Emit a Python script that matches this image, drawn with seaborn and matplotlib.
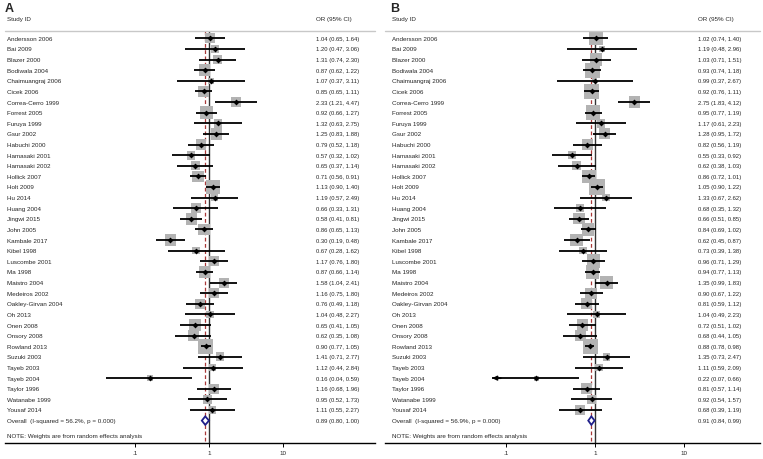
import numpy as np
import pandas as pd
import matplotlib
matplotlib.use("Agg")
import matplotlib.pyplot as plt
import matplotlib.transforms as mtransforms
import seaborn as sns

studies = ["Andersson 2006", "Bai 2009", "Blazer 2000", "Bodiwala 2004", "Chaimuangraj 2006",
           "Cicek 2006", "Correa-Cerro 1999", "Forrest 2005", "Furuya 1999", "Gsur 2002",
           "Habuchi 2000", "Hamasaki 2001", "Hamasaki 2002", "Hollick 2007", "Holt 2009",
           "Hu 2014", "Huang 2004", "Jingwi 2015", "John 2005", "Kambale 2017", "Kibel 1998",
           "Luscombe 2001", "Ma 1998", "Maistro 2004", "Medeiros 2002", "Oakley-Girvan 2004",
           "Oh 2013", "Onen 2008", "Onsory 2008", "Rowland 2013", "Suzuki 2003", "Tayeb 2003",
           "Tayeb 2004", "Taylor 1996", "Watanabe 1999", "Yousaf 2014"]

# panel A
or_a = [1.04, 1.20, 1.31, 0.87, 1.07, 0.85, 2.33, 0.92, 1.32, 1.25, 0.79, 0.57, 0.65, 0.71, 1.13,
        1.19, 0.66, 0.58, 0.86, 0.30, 0.67, 1.17, 0.87, 1.58, 1.16, 0.76, 1.04, 0.65, 0.62, 0.90,
        1.41, 1.12, 0.16, 1.16, 0.95, 1.11]
lo_a = [0.65, 0.47, 0.74, 0.62, 0.37, 0.65, 1.21, 0.66, 0.63, 0.83, 0.52, 0.32, 0.37, 0.56, 0.90,
        0.57, 0.33, 0.41, 0.65, 0.19, 0.28, 0.76, 0.66, 1.04, 0.75, 0.49, 0.48, 0.41, 0.35, 0.77,
        0.71, 0.44, 0.04, 0.68, 0.52, 0.55]
hi_a = [1.64, 3.06, 2.30, 1.22, 3.11, 1.11, 4.47, 1.27, 2.75, 1.88, 1.18, 1.02, 1.14, 0.91, 1.40,
        2.49, 1.31, 0.81, 1.13, 0.48, 1.62, 1.80, 1.14, 2.41, 1.80, 1.18, 2.27, 1.05, 1.08, 1.05,
        2.77, 2.84, 0.59, 1.96, 1.73, 2.27]
w_a = [2.77, 1.56, 2.12, 3.51, 1.08, 3.51, 2.77, 4.33, 2.12, 3.51, 2.77, 2.12, 2.12, 3.51, 5.24,
       1.56, 2.77, 3.51, 3.51, 3.51, 1.56, 2.77, 3.51, 2.77, 2.77, 2.77, 1.56, 3.51, 3.51, 6.23,
       2.12, 1.56, 1.08, 2.77, 2.12, 1.56]
overall_a = (0.89, 0.80, 1.00)
isq_a = "56.2%"

# panel B
or_b = [1.02, 1.19, 1.03, 0.93, 0.99, 0.92, 2.75, 0.95, 1.17, 1.28, 0.82, 0.55, 0.62, 0.86, 1.05,
        1.33, 0.68, 0.66, 0.84, 0.62, 0.73, 0.96, 0.94, 1.35, 0.90, 0.81, 1.04, 0.72, 0.68, 0.88,
        1.35, 1.11, 0.22, 0.81, 0.92, 0.68]
lo_b = [0.74, 0.48, 0.71, 0.74, 0.37, 0.76, 1.83, 0.77, 0.61, 0.95, 0.56, 0.33, 0.38, 0.72, 0.90,
        0.67, 0.35, 0.51, 0.69, 0.45, 0.39, 0.71, 0.77, 0.99, 0.67, 0.59, 0.49, 0.51, 0.44, 0.78,
        0.73, 0.59, 0.07, 0.57, 0.54, 0.39]
hi_b = [1.40, 2.96, 1.51, 1.18, 2.67, 1.11, 4.12, 1.19, 2.23, 1.72, 1.19, 0.92, 1.03, 1.01, 1.22,
        2.62, 1.32, 0.85, 1.02, 0.87, 1.38, 1.29, 1.13, 1.83, 1.22, 1.12, 2.23, 1.02, 1.05, 0.98,
        2.47, 2.09, 0.66, 1.14, 1.57, 1.19]
w_b = [4.20, 0.87, 3.47, 5.00, 0.56, 5.00, 2.81, 5.00, 1.70, 2.81, 2.81, 1.70, 1.70, 4.20, 5.87,
       1.25, 1.25, 2.81, 3.47, 3.47, 1.25, 4.20, 4.20, 3.47, 2.81, 2.81, 0.87, 2.81, 2.81, 5.00,
       1.25, 1.25, 0.56, 2.81, 1.70, 2.22]
overall_b = (0.91, 0.84, 0.99)
isq_b = "56.9%"

xticks = [0.1, 1, 10]
xticklabels = [".1", "1", "10"]

sns.set_style("white")
plt.rcParams['font.family'] = ['Liberation Sans', 'DejaVu Sans']

W, H = 763, 460
fig = plt.figure(figsize=(W / 100, H / 100), dpi=100)

ROW0, ROWH = 39.3, 10.62   # pixel y of first row and row spacing
AXIS_Y = 444
TXT = "#262626"


def row_of(py):
    return (py - ROW0) / ROWH


def panel(px_left, px_right, px_one, px_decade, letter, or_, lo, hi, w, overall, isq,
          box_k, arrow_below=None, name_px=7, ci_px=316):
    ax = fig.add_axes([px_left / W, (H - AXIS_Y) / H, (px_right - px_left) / W, AXIS_Y / H])
    ax.set_xscale("log")
    xl = 10 ** ((px_left - px_one) / px_decade)
    xr = 10 ** ((px_right - px_one) / px_decade)
    ax.set_xlim(xl, xr)
    ax.set_ylim(row_of(AXIS_Y), row_of(0))

    n = len(or_)
    df = pd.DataFrame({"study": studies, "or": or_, "lo": lo, "hi": hi, "w": w,
                       "row": np.arange(n)})

    # gray weight boxes, area proportional to weight (points^2)
    sns.scatterplot(data=df, x="or", y="row", s=df["w"] * box_k, marker="s",
                    color="#b3b3b3", linewidth=0, legend=False, ax=ax, zorder=2)

    # null line and overall dashed line
    top = row_of(31.7)
    ax.vlines(1, top, row_of(AXIS_Y), color="#333333", lw=1.0, zorder=1)
    ax.vlines(overall[0], top, row_of(AXIS_Y), color="#a83838", lw=0.9,
              linestyles=(0, (3, 2)), zorder=1)

    # confidence intervals
    for r, (o, l, h) in enumerate(zip(or_, lo, hi)):
        ax.hlines(r, l, h, color="black", lw=1.3, zorder=3)
        if arrow_below is not None and l < arrow_below:
            ax.annotate("", xy=(l, r), xytext=(l * 1.25, r),
                        arrowprops=dict(arrowstyle="->", color="black", lw=1.3,
                                        mutation_scale=6, shrinkA=0, shrinkB=0), zorder=3)
    sns.scatterplot(data=df, x="or", y="row", marker="D", s=9, color="black",
                    linewidth=0, legend=False, ax=ax, zorder=4)

    # overall diamond
    r = n
    e, l, h = overall
    ax.fill([l, e, h, e, l], [r, r - 0.4, r, r + 0.4, r], facecolor="white",
            edgecolor="#1f1f8a", lw=1.3, zorder=4)

    # text columns
    tx = mtransforms.blended_transform_factory(ax.transAxes, ax.transData)
    xn = (name_px - px_left) / (px_right - px_left)
    xc = (ci_px - px_left) / (px_right - px_left)
    for i, s in enumerate(studies):
        ax.text(xn, i, s, transform=tx, fontsize=4.5, va="center", ha="left", color=TXT)
        ax.text(xc, i, f"{or_[i]:.2f} ({lo[i]:.2f}, {hi[i]:.2f})", transform=tx,
                fontsize=4.2, va="center", ha="left", color=TXT)
    ax.text(xn, n, f"Overall  (I-squared = {isq}, p = 0.000)", transform=tx,
            fontsize=4.5, va="center", ha="left", color=TXT)
    ax.text(xc, n, f"{e:.2f} ({l:.2f}, {h:.2f})", transform=tx,
            fontsize=4.2, va="center", ha="left", color=TXT)
    ax.text(xn, row_of(436.7), "NOTE: Weights are from random effects analysis", transform=tx,
            fontsize=4.5, va="center", ha="left", color=TXT)

    # header
    ax.text(xn - 0.005, row_of(9.5), letter, transform=tx, fontsize=9, fontweight="bold",
            va="center", ha="left", clip_on=False)
    ax.text(xn, row_of(19.3), "Study ID", transform=tx, fontsize=4.5, va="center", ha="left",
            color=TXT)
    ax.text(xc, row_of(19.3), "OR (95% CI)", transform=tx, fontsize=4.5, va="center", ha="left",
            color=TXT)
    ax.plot([0, 1], [row_of(31.7), row_of(31.7)], transform=tx, color="#c8c8c8", lw=1.0,
            clip_on=False)

    # axis
    sns.despine(ax=ax, left=True, top=True, right=True)
    ax.spines["bottom"].set_color("black")
    ax.spines["bottom"].set_linewidth(1.0)
    ax.set_yticks([])
    ax.set_xticks(xticks)
    ax.set_xticklabels(xticklabels)
    ax.minorticks_off()
    ax.tick_params(axis="x", length=3, width=0.7, labelsize=4.5, pad=2, color="black",
                   bottom=True)
    ax.set_xlabel("")
    ax.set_ylabel("")
    ax.patch.set_alpha(0)
    return ax


panel(5, 375, 209, 74, "A", or_a, lo_a, hi_a, w_a, overall_a, isq_a, box_k=19,
      name_px=7, ci_px=316)
panel(385, 760, 595, 89, "B", or_b, lo_b, hi_b, w_b, overall_b, isq_b, box_k=23,
      arrow_below=0.1, name_px=392, ci_px=698)

fig.savefig("out.png", dpi=100, facecolor="white")
